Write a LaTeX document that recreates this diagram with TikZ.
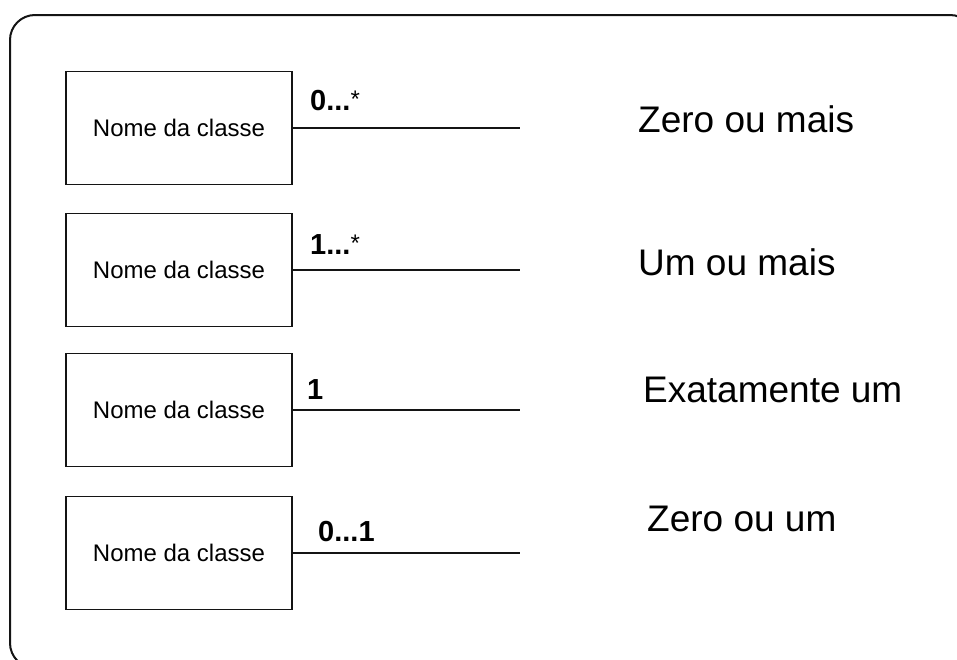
\documentclass[tikz,border=0pt]{standalone}
\usepackage{fontspec}
\setmainfont{Liberation Sans}
\usepackage{tikz}
\definecolor{lineBlack}{RGB}{20, 20, 20}
\newcommand{\estrela}{\raisebox{3pt}{\fontsize{24}{28}\selectfont\mdseries *}}

\begin{document}
\begin{tikzpicture}[x=1pt, y=-1pt,
    classe/.style={draw=lineBlack, line width=1.8pt, minimum width=226pt, minimum height=113pt,
      inner sep=0pt, font=\fontsize{24}{28}\selectfont},
    mult/.style={anchor=base west, inner sep=0pt, font=\fontsize{29}{34}\selectfont\bfseries},
    desc/.style={anchor=base west, inner sep=0pt, font=\fontsize{37}{44}\selectfont}]
        \clip (0,0) rectangle (957,659);
        \draw[lineBlack, line width=2pt, rounded corners=25pt] (10,15) rectangle (975,668);

        % the four classes
        \node[classe] (c1) at (179,128) {Nome da classe};
        \node[classe] (c2) at (179,270) {Nome da classe};
        \node[classe] (c3) at (179,410) {Nome da classe};
        \node[classe] (c4) at (179,553) {Nome da classe};

        % free ends of the associations
        \coordinate (e1) at (520,128);
        \coordinate (e2) at (520,270);
        \coordinate (e3) at (520,410);
        \coordinate (e4) at (520,553);
        \draw[lineBlack, line width=1.5pt] (c1.east) -- (e1);
        \draw[lineBlack, line width=1.5pt] (c2.east) -- (e2);
        \draw[lineBlack, line width=1.5pt] (c3.east) -- (e3);
        \draw[lineBlack, line width=1.5pt] (c4.east) -- (e4);

        % multiplicities
        \node[mult] (m1) at (310,110) {0...\estrela};
        \node[mult] (m2) at (310,254) {1...\estrela};
        \node[mult] (m3) at (307,399) {1};
        \node[mult] (m4) at (318,541) {0...1};

        % meaning of each one
        \node[desc] (d1) at (638,132) {Zero ou mais};
        \node[desc] (d2) at (638,275) {Um ou mais};
        \node[desc] (d3) at (643,402) {Exatamente um};
        \node[desc] (d4) at (647,531) {Zero ou um};
      \end{tikzpicture}
\end{document}
